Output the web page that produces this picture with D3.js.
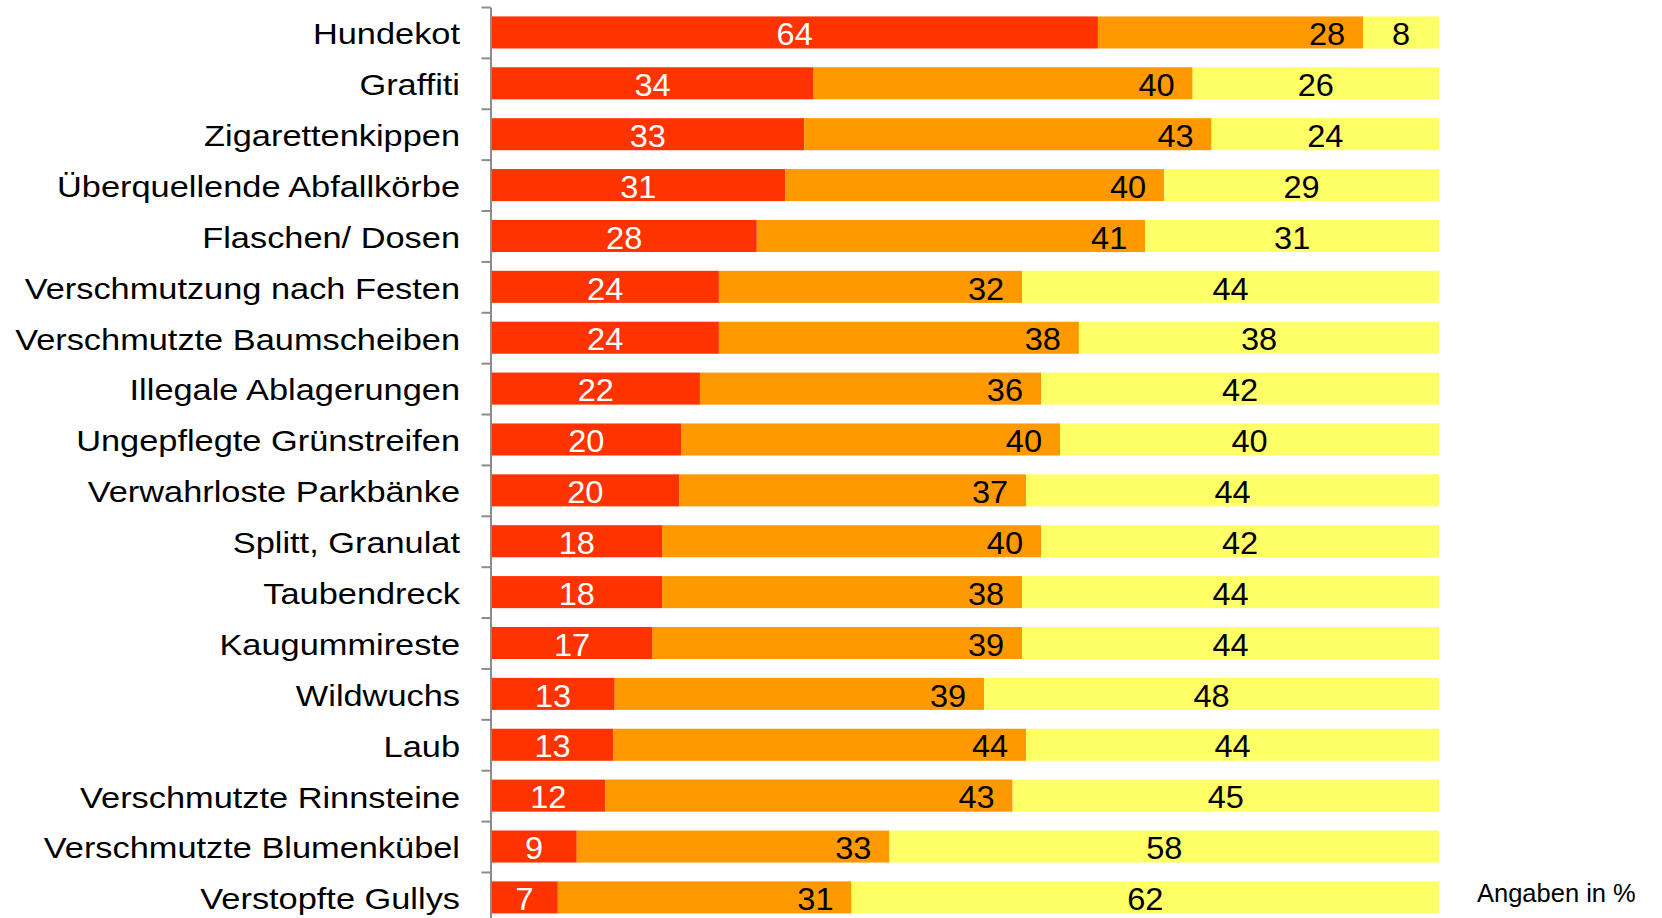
<!DOCTYPE html>
<html>
<head>
  <meta charset="utf-8">
  <script src="https://d3js.org/d3.v7.min.js"></script>
  <style>
  body { margin: 0; background: #fff; }
  svg text { font-family: "Liberation Sans", Arial, sans-serif; }
  .axis path, .axis line { stroke: #8c8c8c; stroke-width: 2; }
  </style>
</head>
<body>
<div id="chart"></div>
<script>
// categories top to bottom
var categories = [
  "Hundekot", "Graffiti", "Zigarettenkippen", "Überquellende Abfallkörbe",
  "Flaschen/ Dosen", "Verschmutzung nach Festen", "Verschmutzte Baumscheiben",
  "Illegale Ablagerungen", "Ungepflegte Grünstreifen", "Verwahrloste Parkbänke",
  "Splitt, Granulat", "Taubendreck", "Kaugummireste", "Wildwuchs", "Laub",
  "Verschmutzte Rinnsteine", "Verschmutzte Blumenkübel", "Verstopfte Gullys"
];
// three answer groups (percent)
var seriesRed    = [64, 34, 33, 31, 28, 24, 24, 22, 20, 20, 18, 18, 17, 13, 13, 12, 9, 7];
var seriesOrange = [28, 40, 43, 40, 41, 32, 38, 36, 40, 37, 40, 38, 39, 39, 44, 43, 33, 31];
var seriesYellow = [8, 26, 24, 29, 31, 44, 38, 42, 40, 44, 42, 44, 44, 48, 44, 45, 58, 62];
var seriesKeys = ["red", "orange", "yellow"];
var colors = ["#ff3300", "#ff9900", "#ffff66"];
var textColors = ["#fff", "#000", "#000"];
var note = "Angaben in %";

var width = 1662, height = 918;
var x0 = 491.5, x1 = 1439;
var y0 = 7, step = 50.88;

var rows = categories.map(function(c, i) {
  return { cat: c, red: seriesRed[i], orange: seriesOrange[i], yellow: seriesYellow[i] };
});

// stacked 100% bars
var stack = d3.stack().keys(seriesKeys).offset(d3.stackOffsetExpand);
var layers = stack(rows);

var x = d3.scaleLinear().domain([0, 1]).range([x0, x1]);
var y = d3.scaleBand().domain(categories)
  .range([y0, y0 + step * categories.length])
  .paddingInner(0.37).paddingOuter(0.185);

var svg = d3.select("#chart").append("svg")
  .attr("width", width)
  .attr("height", height);

// bars
var layer = svg.selectAll(".layer")
  .data(layers)
  .enter().append("g")
  .attr("class", "layer")
  .attr("fill", function(d, i) { return colors[i]; });

layer.selectAll("rect")
  .data(function(d) { return d; })
  .enter().append("rect")
  .attr("x", function(d) { return x(d[0]); })
  .attr("y", function(d) { return y(d.data.cat); })
  .attr("width", function(d) { return x(d[1]) - x(d[0]); })
  .attr("height", y.bandwidth());

// value labels: red + yellow centered, orange at inside end
layers.forEach(function(L, li) {
  svg.append("g").selectAll("text")
    .data(L)
    .enter().append("text")
    .attr("transform", function(d) {
      var tx = li === 1 ? x(d[1]) - 18 : (x(d[0]) + x(d[1])) / 2;
      var ty = y(d.data.cat) + y.bandwidth() / 2;
      return "translate(" + tx + "," + ty + ") scale(1.05,1)";
    })
    .attr("dy", "0.41em")
    .attr("text-anchor", li === 1 ? "end" : "middle")
    .attr("fill", textColors[li])
    .style("font-size", "31px")
    .text(function(d) { return d.data[L.key]; });
});

// axis with ticks between categories
var yTicks = d3.scaleLinear().domain([0, categories.length])
  .range([y0, y0 + step * categories.length]);
svg.append("g")
  .attr("class", "axis")
  .attr("transform", "translate(490.5,0)")
  .call(d3.axisLeft(yTicks)
    .tickValues(d3.range(0, categories.length))
    .tickFormat("")
    .tickSizeInner(9)
    .tickSizeOuter(0));

// category labels
svg.append("g").selectAll("text")
  .data(categories)
  .enter().append("text")
  .attr("transform", function(d) {
    return "translate(460," + (y(d) + y.bandwidth() / 2) + ") scale(1.185,1)";
  })
  .attr("dy", "0.41em")
  .attr("text-anchor", "end")
  .attr("fill", "#000")
  .style("font-size", "29px")
  .text(function(d) { return d; });

svg.append("text")
  .attr("x", 1477)
  .attr("y", 902)
  .attr("fill", "#000")
  .style("font-size", "25.5px")
  .text(note);
</script>
</body>
</html>
